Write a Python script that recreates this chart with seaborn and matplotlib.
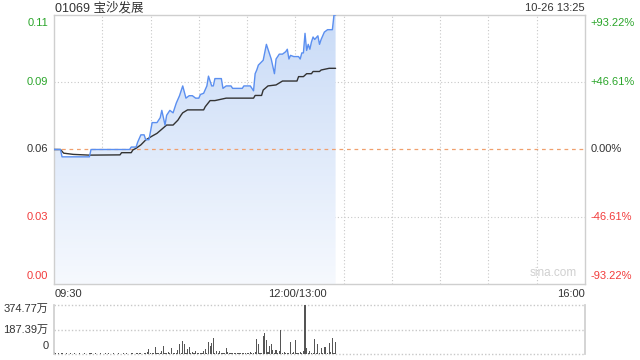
import numpy as np
import matplotlib
matplotlib.use("Agg")
import matplotlib.pyplot as plt
import seaborn as sns
from matplotlib.patches import PathPatch
from matplotlib.colors import LinearSegmentedColormap

# ---------------- data ----------------
title = "01069 宝沙发展"
stamp = "10-26 13:25"
prev_close = 0.059
y_low, y_high = 0.004, 0.114
left_labels = ["0.00", "0.03", "0.06", "0.09", "0.11"]
right_labels = ["-93.22%", "-46.61%", "0.00%", "+46.61%", "+93.22%"]
x_labels = ["09:30", "12:00/13:00", "16:00"]
total_minutes = 330

# price (minutes since 09:30, trading time)
price_t = [0, 4, 5, 22, 23, 47, 48, 51, 52, 54, 56, 57, 59, 61, 64, 66, 67, 69, 70, 72,
           74, 76, 78, 80, 82, 84, 86, 88, 90, 91, 93, 95, 96, 98, 99, 100, 104, 105, 107,
           110, 111, 117, 118, 122, 123, 124, 125, 126, 127, 130, 132, 133, 135, 137, 138,
           140, 142, 144, 145, 146, 147, 149, 152, 153, 154, 155, 156, 157, 158, 159, 160,
           161, 162, 164, 165, 166, 167, 168, 170, 173, 174, 175]
price_v = [0.059, 0.059, 0.056, 0.056, 0.059, 0.059, 0.060, 0.060, 0.062, 0.065, 0.065,
           0.063, 0.063, 0.070, 0.070, 0.072, 0.075, 0.069, 0.073, 0.075,
           0.074, 0.078, 0.081, 0.085, 0.080, 0.081, 0.081, 0.080, 0.080, 0.0815, 0.082,
           0.085, 0.089, 0.085, 0.085, 0.088, 0.088, 0.084, 0.085,
           0.085, 0.084, 0.084, 0.085, 0.085, 0.084, 0.083, 0.090, 0.0915, 0.0935, 0.0955,
           0.102, 0.100, 0.096, 0.090, 0.096,
           0.098, 0.098, 0.099, 0.100, 0.096, 0.0975, 0.097, 0.097, 0.096, 0.0985, 0.0985,
           0.1065, 0.0995, 0.102, 0.100, 0.103,
           0.105, 0.104, 0.1055, 0.102, 0.104, 0.1055, 0.107, 0.108, 0.108, 0.114, 0.114]

# average price
avg_t = [0, 4, 6, 12, 22, 41, 42, 48, 49, 51, 54, 57, 61, 64, 67, 70, 74, 77, 79, 80, 83,
         93, 94, 97, 100, 107, 124, 125, 129, 130, 133, 138, 142, 151, 152, 155, 157, 160,
         161, 165, 166, 171, 175]
avg_v = [0.059, 0.059, 0.0575, 0.057, 0.0567, 0.0568, 0.0577, 0.0577, 0.0588, 0.0595,
         0.0609, 0.0629, 0.0645, 0.0656, 0.0673, 0.069, 0.069, 0.071, 0.0731, 0.074, 0.0752,
         0.0752, 0.0765, 0.079, 0.079, 0.080, 0.080, 0.0811, 0.0811, 0.0833, 0.085, 0.0854,
         0.087, 0.087, 0.0888, 0.0888, 0.090, 0.090, 0.0909, 0.0909, 0.0915, 0.0922, 0.0922]

# volume per minute (万股)
volume = [12, 4, 3, 5, 2, 6, 3, 2, 4, 3,
          5, 2, 3, 4, 2, 3, 5, 2, 3, 4,
          2, 3, 6, 4, 3, 2, 5, 3, 2, 4,
          3, 2, 4, 3, 5, 2, 3, 4, 2, 3,
          5, 3, 2, 4, 3, 6, 3, 2, 5, 4,
          3, 6, 4, 8, 5, 3, 10, 6, 12, 37,
          8, 5, 10, 52, 6, 4, 8, 25, 58, 10,
          6, 12, 8, 45, 6, 4, 10, 30, 75, 8,
          100, 80, 6, 35, 55, 8, 15, 5, 20, 6,
          4, 10, 6, 25, 35, 8, 92, 65, 85, 122,
          8, 20, 6, 20, 5, 10, 6, 45, 12, 6,
          5, 10, 6, 10, 5, 4, 8, 6, 5, 8,
          6, 4, 15, 6, 8, 12, 118, 75, 10, 8,
          136, 162, 110, 12, 60, 75, 30, 8, 30, 10,
          25, 180, 8, 15, 6, 10, 8, 92, 6, 15,
          110, 8, 6, 15, 10, 20, 374.77, 45, 10, 20,
          8, 6, 118, 10, 77, 8, 45, 10, 50, 50,
          10, 85, 15, 120, 8, 90]
vol_labels = ["374.77万", "187.39万", "0"]
vol_max = 374.77

# ---------------- style ----------------
sns.set_theme(style="white")
plt.rcParams['font.family'] = ['Liberation Sans', 'Noto Sans CJK SC', 'DejaVu Sans']

GREEN = "#2aa52a"
RED = "#f23b3b"
DARK = "#333333"
GRID = "#c8c8c8"
SPINE = "#cfcfcf"
BLUE = "#5b8ff0"

fig = plt.figure(figsize=(6.4, 3.6), dpi=100)
ax = fig.add_axes([54 / 640, 1 - 284 / 360, 531 / 640, 269 / 360])
axv = fig.add_axes([54 / 640, 1 - 354 / 360, 531 / 640, 49 / 360])

# gradient fill under price line
poly = ax.fill_between(price_t, price_v, y_low, color="none", lw=0)
path = poly.get_paths()[0]
patch = PathPatch(path, facecolor="none", edgecolor="none", transform=ax.transData)
ax.add_patch(patch)
cmap = LinearSegmentedColormap.from_list("g", ["#f6f9fe", "#c9dbf7"])
grad = np.linspace(0, 1, 256).reshape(-1, 1)
im = ax.imshow(grad, extent=[0, total_minutes, y_low, y_high], origin="lower",
               aspect="auto", cmap=cmap, zorder=1)
im.set_clip_path(patch)

# grid
for k in range(1, 11):
    ax.axvline(k * 30, color=GRID, lw=0.8, ls=(0, (1, 2)), zorder=0.5)
for lv in [prev_close * (1 - 0.4661), prev_close * (1 + 0.4661)]:
    ax.axhline(lv, color=GRID, lw=0.8, ls=(0, (1, 2)), zorder=0.5)
ax.axhline(prev_close, color="#f0a06e", lw=0.9, ls=(0, (3, 3)), zorder=2)

sns.lineplot(x=avg_t, y=avg_v, ax=ax, color=DARK, lw=1.0, estimator=None, sort=False, zorder=3)
sns.lineplot(x=price_t, y=price_v, ax=ax, color=BLUE, lw=1.0, estimator=None, sort=False, zorder=4)

ax.set_xlim(0, total_minutes)
ax.set_ylim(y_low, y_high)
ax.set_xticks([])
ax.set_yticks([])
ax.set_xlabel("")
ax.set_ylabel("")
for s in ax.spines.values():
    s.set_color(SPINE)
    s.set_linewidth(1)

# y labels
levels = [y_low, prev_close * (1 - 0.4661), prev_close, prev_close * (1 + 0.4661), y_high]
colors = [RED, RED, DARK, GREEN, GREEN]
vas = ["bottom", "center", "center", "center", "top"]
for lv, ll, rl, c, va in zip(levels, left_labels, right_labels, colors, vas):
    off = 2 if va == "bottom" else (-2 if va == "top" else 0)
    ax.annotate(ll, (0, lv), xycoords=("axes fraction", "data"), xytext=(-4, off),
                textcoords="offset points", ha="right", va=va, color=c, fontsize=8)
    ax.annotate(rl, (1, lv), xycoords=("axes fraction", "data"), xytext=(4, off),
                textcoords="offset points", ha="left", va=va, color=c, fontsize=8)

# x labels
fig.text(55 / 640, 1 - 294 / 360, x_labels[0], ha="left", va="center", fontsize=8, color=DARK)
fig.text(297 / 640, 1 - 294 / 360, x_labels[1], ha="center", va="center", fontsize=8, color=DARK)
fig.text(585 / 640, 1 - 294 / 360, x_labels[2], ha="right", va="center", fontsize=8, color=DARK)

# titles
fig.text(55 / 640, 1 - 8 / 360, title, ha="left", va="center", fontsize=9, color=DARK)
fig.text(585 / 640, 1 - 8 / 360, stamp, ha="right", va="center", fontsize=8, color=DARK)
ax.text(0.985, 0.02, "sina.com", transform=ax.transAxes, ha="right", va="bottom",
        fontsize=8.5, color="#d0d0d0")

# volume
minutes = np.arange(len(volume))
axv.bar(minutes, volume, width=0.7, color="#555555", lw=0)
axv.set_xlim(0, total_minutes)
axv.set_ylim(0, vol_max)
axv.set_xticks([])
axv.set_yticks([])
for side in ["top", "bottom"]:
    axv.spines[side].set_visible(False)
for side in ["left", "right"]:
    axv.spines[side].set_color(SPINE)
for lv in [vol_max, vol_max / 2, 0]:
    axv.axhline(lv, color=GRID, lw=1.0, ls=(0, (1, 1.5)), zorder=0, clip_on=False)
vvals = [vol_max, vol_max / 2, 0]
vvas = ["top", "center", "bottom"]
for lv, lab, va in zip(vvals, vol_labels, vvas):
    off = 2 if va == "bottom" else (0 if va == "center" else 1)
    axv.annotate(lab, (0, lv), xycoords=("axes fraction", "data"), xytext=(-4, off),
                 textcoords="offset points", ha="right", va=va, color=DARK, fontsize=8)

fig.savefig("out.png", dpi=100)
